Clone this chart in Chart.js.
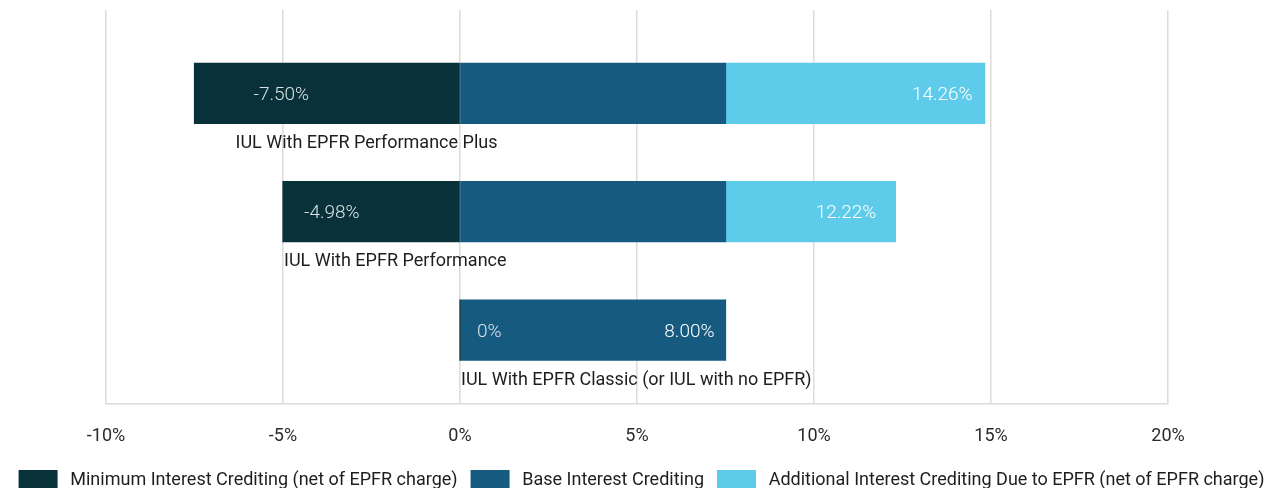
<!DOCTYPE html>
<html>
<head>
<meta charset="utf-8">
<script src="https://cdn.jsdelivr.net/npm/chart.js@4.4.1/dist/chart.umd.min.js"></script>
<style>
  html, body { margin: 0; padding: 0; background: #fff; overflow: hidden; }
  #wrap { position: relative; width: 1283px; height: 500px; }
</style>
</head>
<body>
<div id="wrap"><canvas id="chart"></canvas></div>
<script>
const categories = ['IUL With EPFR Performance Plus', 'IUL With EPFR Performance', 'IUL With EPFR Classic (or IUL with no EPFR)'];
const minCredit = [-7.5, -5.0, 0];
const baseCredit = [7.5, 7.5, 7.5];
const addCredit = [7.32, 4.8, 0];
const minLabels = ['-7.50%', '-4.98%', '0%'];
const baseLabels = [null, null, '8.00%'];
const addLabels = ['14.26%', '12.22%', null];
const xTicks = [-10, -5, 0, 5, 10, 15, 20];
const seriesNames = ['Minimum Interest Crediting (net of EPFR charge)', 'Base Interest Crediting', 'Additional Interest Crediting Due to EPFR (net of EPFR charge)'];

const FONT = 'Roboto, "Noto Sans", sans-serif';

// label placement (px from bar edge)
const labelCfg = [
  {align: 'left', off: [59, 21, 17]},
  {align: 'right', off: [11, 11, 11]},
  {align: 'right', off: [12, 19, 12]}
];
const catOffset = [41, 1, 1];

const barLabels = {
  id: 'barLabels',
  afterDatasetsDraw(chart) {
    const ctx = chart.ctx;
    const all = [minLabels, baseLabels, addLabels];
    ctx.save();
    ctx.font = '300 19px ' + FONT;
    ctx.textBaseline = 'middle';
    all.forEach((labels, di) => {
      const meta = chart.getDatasetMeta(di);
      meta.data.forEach((bar, i) => {
        const txt = labels[i];
        if (!txt) return;
        const left = Math.min(bar.x, bar.base), right = Math.max(bar.x, bar.base);
        const c = labelCfg[di];
        ctx.fillStyle = di === 0 ? 'rgba(235,240,242,0.92)' : '#ffffff';
        if (c.align === 'left') {
          ctx.textAlign = 'left';
          ctx.fillText(txt, left + c.off[i], bar.y + 2);
        } else {
          ctx.textAlign = 'right';
          ctx.fillText(txt, right - c.off[i], bar.y + 2);
        }
      });
    });
    // category names under each bar
    ctx.font = '400 18px ' + FONT;
    ctx.fillStyle = '#1e1e1e';
    ctx.textAlign = 'left';
    const m0 = chart.getDatasetMeta(0), m1 = chart.getDatasetMeta(1);
    categories.forEach((name, i) => {
      const b0 = m0.data[i], b1 = m1.data[i];
      const left = Math.min(b0.x, b0.base, b1.base);
      ctx.fillText(name, left + catOffset[i], b0.y + 30 + 20);
    });
    ctx.restore();
  }
};

const toPts = arr => arr.map((v, i) => ({x: v, y: i}));

// invisible side axes just to reserve room left/right of the plot
const spacer = (pos, w, lo, hi) => ({
  type: 'linear', position: pos, bounds: 'data', offset: false,
  min: lo, max: hi,
  ticks: {display: false}, grid: {display: false}, border: {display: false},
  afterFit: s => { s.width = w; }
});

new Chart(document.getElementById('chart'), {
  type: 'bar',
  data: {
    datasets: [
      {label: seriesNames[0], data: toPts(minCredit), backgroundColor: '#08313a'},
      {label: seriesNames[1], data: toPts(baseCredit), backgroundColor: '#175a80'},
      {label: seriesNames[2], data: toPts(addCredit), backgroundColor: '#5fcbea'}
    ]
  },
  options: {
    indexAxis: 'y',
    responsive: true,
    maintainAspectRatio: false,
    animation: false,
    barThickness: 60,
    inflateAmount: 0.6,
    layout: {padding: {top: 10, left: 0, right: 0, bottom: 0}},
    plugins: {
      legend: {
        position: 'bottom',
        labels: {
          boxWidth: 39, boxHeight: 20, padding: 13,
          color: '#1e1e1e',
          font: {family: FONT, size: 18},
          generateLabels: chart => Chart.defaults.plugins.legend.labels.generateLabels(chart)
            .map(l => Object.assign(l, {text: '\u2009' + l.text}))
        }
      },
      tooltip: {enabled: false},
      title: {display: false}
    },
    scales: {
      x: {
        type: 'linear',
        stacked: true,
        min: -10, max: 20,
        afterBuildTicks: s => { s.ticks = xTicks.map(v => ({value: v})); },
        afterFit: s => { s.height = s.height - 12; },
        ticks: {
          padding: 22,
          color: '#2a2a2a',
          font: {family: FONT, size: 18},
          callback: v => v + '%'
        },
        grid: {color: '#dcdcdc', lineWidth: 1.5, drawTicks: false},
        border: {display: true, color: '#dcdcdc', width: 1.5}
      },
      y: Object.assign(spacer('left', 106, -0.7034, 2.6186), {
        stacked: true,
        reverse: true
      }),
      yRight: spacer('right', 115, 0, 1)
    }
  },
  plugins: [barLabels]
});
</script>
</body>
</html>
